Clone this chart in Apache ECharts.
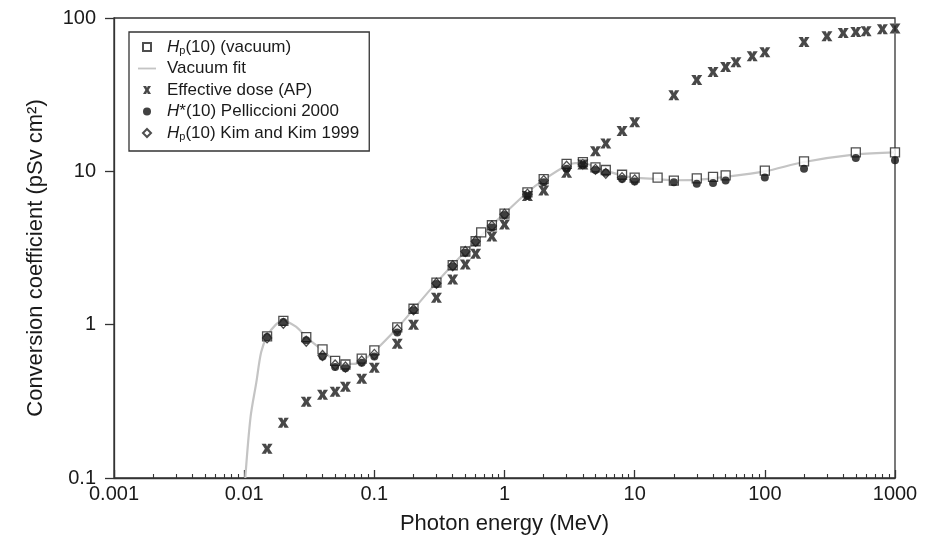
<!DOCTYPE html>
<html>
<head>
<meta charset="utf-8">
<script src="https://cdn.jsdelivr.net/npm/echarts@6/dist/echarts.min.js"></script>
<style>
  html, body { margin: 0; padding: 0; background: #fff; }
  #main { width: 934px; height: 545px; }
</style>
</head>
<body>
<div id="main"></div>
<script>
// Hp(10) vacuum (squares)
var hpVacE = [0.015,0.02,0.03,0.04,0.05,0.06,0.08,0.1,0.15,0.2,0.3,0.4,0.5,0.6,0.662,0.8,1,1.5,2,3,4,5,6,8,10,15,20,30,40,50,100,200,500,1000];
var hpVac  = [0.84,1.06,0.83,0.69,0.58,0.55,0.6,0.68,0.96,1.27,1.88,2.44,3.0,3.5,4.0,4.45,5.3,7.3,8.9,11.2,11.5,10.6,10.2,9.5,9.1,9.1,8.7,9.0,9.2,9.4,10.1,11.6,13.3,13.3];

// vacuum fit (grey line)
var fitE = [0.0102,0.0112,0.0124,0.0135,0.015,0.0175,0.02,0.025,0.03,0.04,0.05,0.06,0.07,0.08,0.1,0.15,0.2,0.3,0.5,0.8,1,1.5,2,3,3.5,4,5,6,8,10,15,20,30,50,100,200,500,1000];
var fitV = [0.1,0.25,0.42,0.66,0.84,1.0,1.06,0.97,0.83,0.68,0.58,0.555,0.555,0.58,0.67,0.95,1.26,1.88,3.0,4.45,5.3,7.3,8.8,10.9,11.3,11.3,10.7,10.1,9.4,9.1,8.9,8.75,8.8,9.2,10.0,11.5,12.9,13.3];

// effective dose AP (crosses)
var effE = [0.015,0.02,0.03,0.04,0.05,0.06,0.08,0.1,0.15,0.2,0.3,0.4,0.5,0.6,0.8,1,1.5,2,3,4,5,6,8,10,20,30,40,50,60,80,100,200,300,400,500,600,800,1000];
var eff  = [0.155,0.229,0.314,0.349,0.365,0.393,0.444,0.524,0.75,1.0,1.5,1.97,2.47,2.9,3.76,4.5,6.9,7.5,9.8,11.1,13.5,15.2,18.3,20.9,31.3,39.4,44.5,47.9,51.5,56.3,59.9,69.7,76.0,79.8,80.9,82.1,84.5,85.5];

// H*(10) Pelliccioni 2000 (dots)
var pellE = [0.015,0.02,0.03,0.04,0.05,0.06,0.08,0.1,0.15,0.2,0.3,0.4,0.5,0.6,0.8,1,1.5,2,3,4,5,6,8,10,20,30,40,50,100,200,500,1000];
var pell  = [0.83,1.04,0.79,0.62,0.53,0.52,0.565,0.62,0.89,1.24,1.84,2.4,2.95,3.45,4.3,5.2,6.9,8.5,10.4,11.0,10.2,9.8,8.9,8.6,8.5,8.3,8.4,8.7,9.1,10.4,12.2,11.8];

// Hp(10) Kim and Kim 1999 (diamonds)
var kimE = [0.015,0.02,0.03,0.04,0.05,0.06,0.08,0.1,0.15,0.2,0.3,0.4,0.5,0.6,0.8,1,1.5,2,3,4,5,6,8,10];
var kim  = [0.82,1.02,0.78,0.63,0.545,0.53,0.58,0.64,0.93,1.25,1.86,2.42,3.0,3.5,4.4,5.25,7.1,8.7,10.8,11.1,10.3,9.7,9.1,8.8];

var xDecades = [0.001,0.01,0.1,1,10,100,1000];
var xLabels = ['0.001','0.01','0.1','1','10','100','1000'];
var yDecades = [0.1,1,10,100];
var yLabels = ['0.1','1','10','100'];
var minorMult = [2,3,4,5,6,7,8,9];

var minorTicks = [];
for (var d = 0; d < xDecades.length - 1; d++) {
    minorMult.forEach(function (m) { minorTicks.push(+(xDecades[d] * m).toPrecision(3)); });
}

function pairs(xs, ys) {
    return xs.map(function (x, i) { return [x, ys[i]]; });
}

var crossPath = 'path://M0,0 L4,0 L5,2.6 L6,0 L10,0 L7,5 L10,10 L6,10 L5,7.4 L4,10 L0,10 L3,5 Z';
var font = 'Liberation Sans, Arial, sans-serif';
var ink = '#1a1a1a';

var legendNames = {
    'hpvac': '{i|H}{s|p}(10) (vacuum)',
    'fit': 'Vacuum fit',
    'eff': 'Effective dose (AP)',
    'pell': '{i|H}*(10) Pelliccioni 2000',
    'kim': '{i|H}{s|p}(10) Kim and Kim 1999'
};

var chart = echarts.init(document.getElementById('main'));
var option = {
    animation: false,
    grid: { left: 114, right: 39, top: 18, bottom: 67, show: true, borderColor: '#333', borderWidth: 1.3 },
    legend: {
        orient: 'vertical',
        left: 129, top: 32,
        data: [
            { name: 'hpvac', icon: 'path://M0,0 L10,0 L10,10 L0,10 Z' },
            { name: 'fit', icon: 'path://M0,0 L20,0 L20,2 L0,2 Z', itemStyle: { color: '#c4c4c4' } },
            { name: 'eff', icon: crossPath },
            { name: 'pell', icon: 'circle' },
            { name: 'kim', icon: 'path://M5,0 L10,5 L5,10 L0,5 Z' }
        ],
        formatter: function (n) { return legendNames[n]; },
        borderColor: '#333', borderWidth: 1.3,
        padding: [6, 10, 9, 9],
        itemGap: 3.5,
        itemWidth: 18, itemHeight: 8,
        textStyle: {
            fontFamily: font, fontSize: 17, color: ink, lineHeight: 18, padding: [0, 0, 0, 6],
            rich: {
                i: { fontFamily: font, fontSize: 17, fontStyle: 'italic', color: ink },
                s: { fontFamily: font, fontSize: 11, color: ink, verticalAlign: 'bottom', padding: [9, 0, 0, 0] }
            }
        }
    },
    xAxis: [{
        type: 'log', logBase: 10, min: 0.001, max: 1000,
        name: 'Photon energy (MeV)', nameLocation: 'middle', nameGap: 35,
        nameTextStyle: { fontFamily: font, fontSize: 22, color: ink },
        axisLine: { lineStyle: { color: '#333', width: 1.3 } },
        axisTick: { inside: true, length: 8, lineStyle: { color: '#333', width: 1.3 } },
        axisLabel: {
            fontFamily: font, fontSize: 20, color: ink, margin: 6,
            formatter: function (v) { var i = xDecades.indexOf(+v.toPrecision(3)); return i >= 0 ? xLabels[i] : ''; }
        },
        splitLine: { show: false }
    }, {
        type: 'log', logBase: 10, min: 0.001, max: 1000, position: 'bottom',
        axisLine: { show: false },
        axisTick: { inside: true, length: 4, customValues: minorTicks, lineStyle: { color: '#333', width: 1.1 } },
        axisLabel: { show: false },
        splitLine: { show: false }
    }],
    yAxis: {
        type: 'log', logBase: 10, min: 0.1, max: 100,
        name: 'Conversion coefficient (pSv cm²)', nameLocation: 'middle', nameGap: 67,
        nameTextStyle: { fontFamily: font, fontSize: 22, color: ink, padding: [0, 20, 0, 0] },
        axisLine: { show: true, lineStyle: { color: '#333', width: 1.3 } },
        axisTick: { show: true, inside: false, length: 9, lineStyle: { color: '#333', width: 1.3 } },
        axisLabel: {
            fontFamily: font, fontSize: 20, color: ink, margin: 18,
            formatter: function (v) { var i = yDecades.indexOf(+v.toPrecision(3)); return i >= 0 ? yLabels[i] : ''; }
        },
        splitLine: { show: false }
    },
    series: [{
        name: 'fit', type: 'line', data: pairs(fitE, fitV), smooth: 0.3,
        symbol: 'none', lineStyle: { color: '#c4c4c4', width: 2.2 }, itemStyle: { color: '#c4c4c4' }, z: 1
    }, {
        name: 'hpvac', type: 'scatter', data: pairs(hpVacE, hpVac),
        symbol: 'rect', symbolSize: 9,
        itemStyle: { color: '#fff', borderColor: '#222', borderWidth: 1.3 }, z: 2
    }, {
        name: 'pell', type: 'scatter', data: pairs(pellE, pell),
        symbol: 'circle', symbolSize: 8,
        itemStyle: { color: '#111' }, z: 3
    }, {
        name: 'kim', type: 'scatter', data: pairs(kimE, kim),
        symbol: 'diamond', symbolSize: [9, 10],
        itemStyle: { color: 'rgba(0,0,0,0)', borderColor: '#222', borderWidth: 1.3 }, z: 4
    }, {
        name: 'eff', type: 'scatter', data: pairs(effE, eff),
        symbol: crossPath, symbolSize: [11, 10],
        itemStyle: { color: '#1a1a1a' }, z: 5
    }]
};
chart.setOption(option);
</script>
</body>
</html>
